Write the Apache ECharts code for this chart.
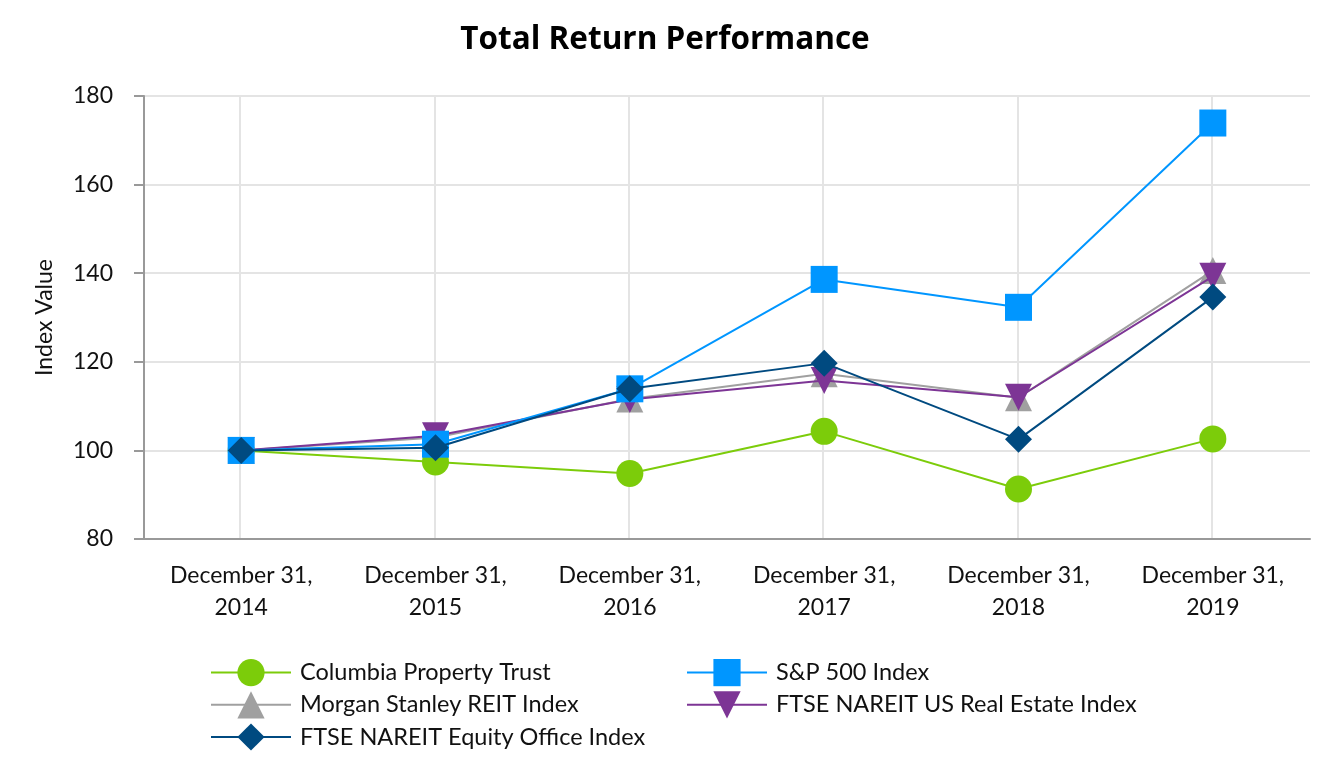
<!DOCTYPE html>
<html>
<head>
<meta charset="utf-8">
<script src="https://cdn.jsdelivr.net/npm/echarts@6/dist/echarts.min.js"></script>
<style>html,body{margin:0;padding:0;background:#fff;}#c{width:1330px;height:780px;}</style>
</head>
<body>
<div id="c"></div>
<script>
const categories = ["December 31,\n2014","December 31,\n2015","December 31,\n2016","December 31,\n2017","December 31,\n2018","December 31,\n2019"];
const columbia = [100.0, 97.4, 94.8, 104.3, 91.3, 102.6];
const sp500 = [100.0, 101.4, 113.9, 138.6, 132.3, 173.9];
const msReit = [100.0, 102.9, 111.6, 117.3, 111.9, 140.6];
const ftseUS = [100.0, 103.3, 111.5, 115.8, 112.0, 139.3];
const ftseOffice = [100.0, 100.6, 113.9, 119.7, 102.5, 134.6];
const yTicks = [80, 100, 120, 140, 160, 180];

const FONT = 'Lato';
const FS = 23;
const chart = echarts.init(document.getElementById('c'));
function line(name, data, color, symbol, rotate, z) {
  return {
    name, type: 'line', data, xAxisIndex: 0, yAxisIndex: 0,
    symbol, symbolSize: 27, symbolRotate: rotate, z,
    lineStyle: {color, width: 2}, itemStyle: {color},
    showSymbol: true
  };
}
const legendCommon = {
  orient: 'vertical', top: 659, itemWidth: 80, itemHeight: 34, itemGap: 5, padding: 0,
  textStyle: {fontFamily: FONT, fontSize: 23.5, color: '#111', padding: [0, 0, 0, 4]}
};
chart.setOption({
  animation: false,
  textStyle: {fontFamily: FONT},
  title: {
    text: 'Total Return Performance', left: 'center', top: 19,
    textStyle: {fontFamily: 'Open Sans', fontSize: 31.5, fontWeight: 'bold', color: '#000'}
  },
  legend: [
    Object.assign({left: 210, data: ['Columbia Property Trust', 'Morgan Stanley REIT Index', 'FTSE NAREIT Equity Office Index']}, legendCommon),
    Object.assign({left: 686, data: ['S&P 500 Index', 'FTSE NAREIT US Real Estate Index']}, legendCommon)
  ],
  grid: [
    {left: 144, right: 20, top: 96, height: 443, containLabel: false},
    {left: 240, right: 118, top: 96, height: 443, containLabel: false}
  ],
  xAxis: [
    {type: 'category', gridIndex: 0, data: categories, boundaryGap: true,
     axisLine: {lineStyle: {color: '#999', width: 2}}, axisTick: {show: false},
     axisLabel: {fontFamily: FONT, fontSize: FS, color: '#111', margin: 21, lineHeight: 32},
     splitLine: {show: false}},
    {type: 'category', gridIndex: 1, data: categories, boundaryGap: false,
     axisLine: {show: false}, axisTick: {show: false}, axisLabel: {show: false},
     splitLine: {show: true, lineStyle: {color: '#e4e4e4', width: 2}}}
  ],
  yAxis: [
    {type: 'value', gridIndex: 0, min: 80, max: 180, interval: 20,
     name: 'Index Value', nameLocation: 'middle', nameGap: 88, nameRotate: 90,
     nameTextStyle: {fontFamily: FONT, fontSize: FS, color: '#111'},
     axisLine: {show: true, lineStyle: {color: '#999', width: 2}},
     axisTick: {show: true, length: 10, lineStyle: {color: '#999', width: 2}},
     axisLabel: {fontFamily: FONT, fontSize: FS, color: '#111', margin: 31,
       formatter: v => yTicks.includes(v) ? String(v) : ''},
     splitLine: {show: true, lineStyle: {color: '#e4e4e4', width: 2}}},
    {type: 'value', gridIndex: 1, min: 80, max: 180, interval: 20, show: false,
     splitLine: {show: false}}
  ],
  series: [
    line('Columbia Property Trust', columbia, '#7ccc0a', 'circle', 0, 2),
    line('Morgan Stanley REIT Index', msReit, '#a0a0a0', 'triangle', 0, 3),
    line('FTSE NAREIT US Real Estate Index', ftseUS, '#7d3595', 'triangle', 180, 4),
    line('S&P 500 Index', sp500, '#0096ff', 'rect', 0, 5),
    line('FTSE NAREIT Equity Office Index', ftseOffice, '#004a80', 'diamond', 0, 6)
  ]
});
</script>
</body>
</html>
